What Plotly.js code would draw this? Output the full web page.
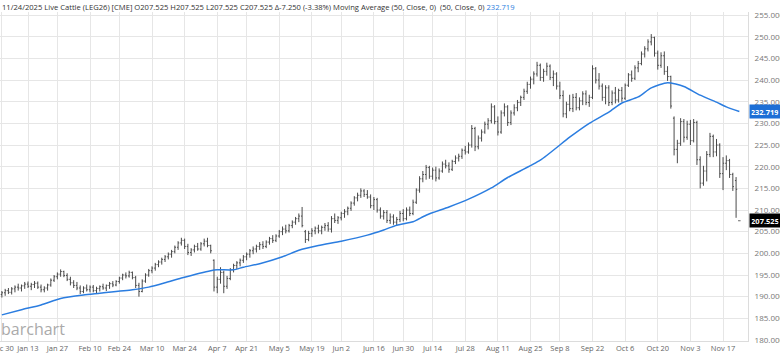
<!DOCTYPE html>
<html><head><meta charset="utf-8">
<script src="https://cdn.plot.ly/plotly-3.0.1.min.js"></script>
<style>html,body{margin:0;padding:0;background:#fff;}#chart{width:780px;height:355px;}</style>
</head><body><div id="chart"></div>
<script>
// Trading calendar (CME livestock): first and last session, closed days
const firstSession = '2024-12-30';
const lastSession = '2025-11-24';
const closedDays = ['2025-01-01','2025-01-09','2025-01-20','2025-02-17','2025-04-18','2025-05-26','2025-06-19','2025-07-04','2025-09-01'];

// Daily OHLC, Live Cattle LEG26
const opens = [
190.5,190.9,191.4,191.0,191.8,192.2,192.0,192.5,192.9,192.4,
192.8,193.1,192.2,191.6,192.0,192.7,193.8,194.6,195.2,195.8,
194.9,194.0,193.2,192.6,192.0,191.2,192.0,191.6,192.2,191.4,
191.9,192.3,192.0,192.6,193.0,192.7,193.5,194.3,195.0,194.8,
195.6,194.4,192.6,191.2,193.6,195.0,196.0,196.6,197.4,198.0,
198.6,199.2,199.8,200.4,201.4,202.4,203.0,201.6,200.2,200.8,
201.6,201.0,202.2,202.8,201.8,198.4,192.2,194.0,195.6,192.4,
194.2,196.2,197.2,197.8,198.4,199.2,199.8,200.6,201.0,201.6,
202.0,201.6,202.6,203.4,203.0,204.0,205.0,205.6,205.2,206.4,
207.2,208.0,208.6,205.0,203.2,204.6,205.2,205.8,205.2,206.0,
206.4,205.6,208.0,207.6,208.2,209.2,209.6,210.4,211.6,212.8,
213.4,214.4,213.6,213.0,211.0,212.4,210.0,208.6,209.4,207.6,
208.4,207.2,207.8,209.2,208.0,210.0,209.2,211.8,214.6,217.2,
218.2,219.8,217.8,219.2,217.4,219.0,220.6,220.2,219.4,221.2,
222.0,222.4,223.8,223.4,225.0,228.8,224.6,226.6,228.0,229.8,
230.6,233.8,230.4,228.0,232.4,233.8,230.2,232.4,233.6,234.8,
236.0,237.4,239.0,240.2,241.4,243.4,240.6,242.0,243.2,240.6,
241.4,238.6,236.4,232.2,234.4,233.4,236.0,233.6,235.2,236.8,
234.8,236.0,242.6,240.0,238.6,236.0,238.2,234.8,237.0,235.4,
237.6,235.8,238.8,241.2,240.4,242.8,243.8,246.0,247.2,248.8,
249.8,246.2,243.4,245.6,242.0,240.8,231.2,224.0,225.4,230.4,
226.8,229.8,226.0,230.2,221.6,216.2,219.0,222.8,227.0,223.4,
225.0,218.4,220.8,221.4,218.2,216.8,207.525];
const highs = [
191.3,191.8,192.0,192.2,192.6,193.0,192.8,193.4,193.5,193.2,
193.6,193.5,192.8,192.4,193.0,194.2,195.0,195.6,196.3,196.0,
195.4,194.6,193.8,193.4,192.6,192.4,192.8,192.6,192.7,192.3,
192.6,193.0,192.8,193.4,193.6,193.8,194.6,195.3,195.6,196.0,
195.8,194.8,193.2,194.0,195.4,196.4,197.0,197.8,198.4,199.0,
199.6,200.2,200.8,201.8,202.8,203.6,203.4,202.2,201.2,202.0,
202.4,202.6,203.4,203.6,202.0,198.6,194.6,196.8,196.0,194.8,
196.6,197.6,198.2,198.8,199.6,200.2,201.0,201.6,202.0,202.6,
202.8,203.0,203.8,204.2,204.4,205.4,206.2,206.6,206.8,207.6,
208.4,209.2,210.7,205.4,205.2,205.8,206.2,206.6,206.4,207.0,
207.2,208.6,209.2,208.6,209.6,210.2,210.8,212.0,213.2,214.0,
215.0,214.8,214.6,213.6,213.0,212.8,210.6,210.0,210.0,209.2,
209.0,208.4,209.8,210.2,210.6,210.8,212.4,215.0,217.8,219.0,
220.4,220.2,219.8,220.0,219.6,221.2,221.6,221.0,221.6,222.6,
223.0,224.2,224.8,225.6,229.6,229.2,227.2,228.6,230.4,231.2,
234.6,234.2,231.6,233.0,234.6,234.2,233.0,234.4,235.4,236.4,
238.0,239.6,240.8,242.0,244.2,243.8,242.6,244.0,243.6,242.2,
241.8,239.6,237.6,235.0,236.6,236.8,237.0,236.0,237.4,237.6,
236.6,243.4,243.0,241.6,239.2,238.8,238.8,237.6,238.4,238.0,
238.4,239.2,241.6,242.2,243.4,244.4,246.6,247.8,249.4,250.6,
250.0,246.8,246.4,246.6,243.2,241.0,231.6,226.2,231.2,231.0,
230.6,230.8,231.0,230.6,222.4,220.2,223.6,227.8,227.4,226.4,
225.4,222.2,222.6,221.8,218.6,217.6,207.525];
const lows = [
189.8,190.2,190.6,190.5,191.0,191.4,191.2,191.8,192.0,191.5,
192.0,191.8,191.0,191.0,191.4,192.3,193.4,194.0,194.6,194.5,
193.6,192.6,192.0,191.5,190.6,190.8,191.2,191.0,191.0,190.8,
191.2,191.6,191.3,191.8,192.2,192.4,193.0,193.8,194.2,194.4,
194.0,192.0,190.0,191.0,193.2,194.6,195.4,196.0,196.8,197.4,
198.0,198.6,199.0,200.0,200.8,201.8,201.0,199.6,199.4,200.2,
200.6,200.6,201.6,201.4,200.0,191.2,190.8,193.0,190.8,191.8,
193.8,195.6,196.4,197.0,197.8,198.4,199.0,199.8,200.2,200.8,
201.0,201.2,202.0,202.4,202.6,203.6,204.2,204.6,204.8,205.8,
206.6,207.2,206.0,202.4,202.8,203.8,204.4,204.6,204.4,205.2,
205.0,204.8,207.0,206.8,207.6,208.2,208.8,209.8,211.0,212.0,
212.8,213.0,212.6,210.4,210.0,209.4,208.0,207.8,207.0,206.8,
206.6,206.4,207.2,207.4,207.6,208.6,208.8,211.4,214.0,216.4,
217.0,217.2,217.0,216.6,217.0,218.6,219.6,218.6,219.0,220.6,
221.2,221.8,222.8,223.0,224.4,223.6,224.0,225.8,227.6,228.6,
230.0,229.8,227.2,227.6,231.6,229.4,229.6,231.8,232.8,234.0,
235.4,236.8,238.0,239.0,240.8,239.8,239.6,241.0,240.0,238.6,
237.8,235.6,231.4,231.2,232.8,232.6,233.0,233.0,234.2,234.2,
233.8,235.6,239.2,237.8,235.2,234.4,234.0,234.2,234.6,234.8,
235.0,235.4,238.4,239.6,240.0,241.8,243.4,245.2,246.6,248.0,
245.4,242.4,242.8,241.2,239.8,233.4,222.6,220.8,224.8,225.6,
226.2,225.0,225.6,220.4,215.0,215.6,216.6,222.2,222.2,222.4,
217.4,214.6,219.2,217.4,214.4,208.2,207.525];
const closes = [
190.9,191.4,191.0,191.8,192.2,192.0,192.5,192.9,192.4,192.8,
193.1,192.2,191.6,192.0,192.7,193.8,194.6,195.2,195.8,194.9,
194.0,193.2,192.6,192.0,191.2,192.0,191.6,192.2,191.4,191.9,
192.3,192.0,192.6,193.0,192.7,193.5,194.3,195.0,194.8,195.6,
194.4,192.6,191.2,193.6,195.0,196.0,196.6,197.4,198.0,198.6,
199.2,199.8,200.4,201.4,202.4,203.0,201.6,200.2,200.8,201.6,
201.0,202.2,202.8,201.8,200.6,192.2,194.0,195.6,192.4,194.2,
196.2,197.2,197.8,198.4,199.2,199.8,200.6,201.0,201.6,202.0,
201.6,202.6,203.4,203.0,204.0,205.0,205.6,205.2,206.4,207.2,
208.0,208.6,206.4,203.2,204.6,205.2,205.8,205.2,206.0,206.4,
205.6,208.0,207.6,208.2,209.2,209.6,210.4,211.6,212.8,213.4,
214.4,213.6,213.0,211.0,212.4,210.0,208.6,209.4,207.6,208.4,
207.2,207.8,209.2,208.0,210.0,209.2,211.8,214.6,217.2,218.2,
219.8,217.8,219.2,217.4,219.0,220.6,220.2,219.4,221.2,222.0,
222.4,223.8,223.4,225.0,228.8,224.6,226.6,228.0,229.8,230.6,
233.8,230.4,228.0,232.4,233.8,230.2,232.4,233.6,234.8,236.0,
237.4,239.0,240.2,241.4,243.4,240.6,242.0,243.2,240.6,241.4,
238.6,236.4,232.2,234.4,233.4,236.0,233.6,235.2,236.8,234.8,
236.0,242.6,240.0,238.6,236.0,238.2,234.8,237.0,235.4,237.6,
235.8,238.8,241.2,240.4,242.8,243.8,246.0,247.2,248.8,249.8,
246.2,243.4,245.6,242.0,240.8,234.0,224.0,225.4,230.4,226.8,
229.8,226.0,230.2,221.6,216.2,219.0,222.8,227.0,223.4,225.0,
218.4,220.8,221.4,218.2,215.4,214.775,207.525];

// 50-day moving average (at these sessions)
const maDates = ['2024-12-30','2025-01-08','2025-01-17','2025-01-28','2025-02-06','2025-02-13','2025-02-28','2025-03-07','2025-03-14','2025-03-21',
'2025-04-03','2025-04-07','2025-04-14','2025-04-17','2025-04-25','2025-05-06','2025-05-13','2025-05-21','2025-06-02','2025-06-12',
'2025-06-20','2025-06-26','2025-07-03','2025-07-10','2025-07-21','2025-07-29','2025-08-07','2025-08-14','2025-08-28','2025-09-11',
'2025-09-19','2025-09-29','2025-10-03','2025-10-10','2025-10-16','2025-10-23','2025-10-30','2025-11-06','2025-11-13','2025-11-18','2025-11-24'];
const maValues = [185.8,187.0,188.1,189.6,190.4,190.8,191.6,192.2,193.2,194.3,
196.0,196.2,196.2,196.8,197.6,199.2,200.7,201.8,202.8,204.2,
205.4,206.5,207.3,208.8,210.7,212.5,215.1,217.5,221.5,226.8,
230.0,232.6,234.7,236.1,238.2,239.4,238.5,236.5,234.9,233.8,232.719];

// Date axis labels
const tickDates = ['2024-12-30','2025-01-13','2025-01-27','2025-02-10','2025-02-24','2025-03-10','2025-03-24','2025-04-07','2025-04-21','2025-05-05','2025-05-19','2025-06-02','2025-06-16','2025-06-30','2025-07-14','2025-07-28','2025-08-11','2025-08-25','2025-09-08','2025-09-22','2025-10-06','2025-10-20','2025-11-03','2025-11-17'];
const tickLabels = ['Dec 30','Jan 13','Jan 27','Feb 10','Feb 24','Mar 10','Mar 24','Apr 7','Apr 21','May 5','May 19','Jun 2','Jun 16','Jun 30','Jul 14','Jul 28','Aug 11','Aug 25','Sep 8','Sep 22','Oct 6','Oct 20','Nov 3','Nov 17'];
const priceTicks = [180,185,190,195,200,205,210,215,220,225,230,235,240,245,250,255];

// Build the session list from the calendar
const sessions = [];
{
  const d = new Date(firstSession + 'T00:00:00Z');
  const end = new Date(lastSession + 'T00:00:00Z');
  while (d <= end) {
    const s = d.toISOString().slice(0,10);
    const wd = d.getUTCDay();
    if (wd !== 0 && wd !== 6 && closedDays.indexOf(s) < 0) sessions.push(s);
    d.setUTCDate(d.getUTCDate() + 1);
  }
}

const FONT = '"Open Sans", "DejaVu Sans", sans-serif';
const lastClose = closes[closes.length-1];
const lastMA = maValues[maValues.length-1];

const traces = [
  {
    type: 'ohlc', x: sessions, open: opens, high: highs, low: lows, close: closes,
    increasing: {line: {color: '#4a4a4a', width: 1}},
    decreasing: {line: {color: '#4a4a4a', width: 1}},
    tickwidth: 0.35, hoverinfo: 'skip', showlegend: false
  },
  {
    type: 'scatter', mode: 'lines', x: maDates, y: maValues,
    line: {color: '#2b7de0', width: 1.5, shape: 'spline', smoothing: 0.6},
    hoverinfo: 'skip', showlegend: false
  }
];

const layout = {
  width: 780, height: 355,
  margin: {l: 0, r: 32, t: 12, b: 14, pad: 0},
  paper_bgcolor: '#ffffff', plot_bgcolor: '#ffffff',
  font: {family: FONT, size: 8, color: '#666'},
  showlegend: false,
  xaxis: {
    type: 'category', categoryorder: 'array', categoryarray: sessions,
    range: [-0.58, 228.65],
    rangeslider: {visible: false},
    tickmode: 'array', tickvals: tickDates, ticktext: tickLabels,
    tickangle: 0, automargin: false,
    showgrid: true, gridcolor: '#e6e6e6', gridwidth: 1,
    showline: true, linecolor: '#dcdcdc', linewidth: 1,
    ticks: '', tickfont: {family: FONT, size: 7.5, color: '#666'},
    zeroline: false, fixedrange: true
  },
  yaxis: {
    side: 'right', range: [179.77, 255.7],
    tickmode: 'array', tickvals: priceTicks,
    ticktext: priceTicks.map(v => v.toFixed(3)),
    automargin: false,
    showgrid: true, gridcolor: '#e6e6e6', gridwidth: 1,
    showline: true, linecolor: '#dcdcdc', linewidth: 1,
    ticks: 'outside', ticklen: 4, tickcolor: 'rgba(0,0,0,0)',
    tickfont: {family: FONT, size: 8, color: '#777'},
    zeroline: false, fixedrange: true
  },
  annotations: [
    {
      xref: 'paper', yref: 'paper', x: 0, y: 1, xanchor: 'left', yanchor: 'bottom',
      xshift: 0, yshift: -2, showarrow: false, align: 'left',
      text: '11/24/2025 Live Cattle (LEG26) [CME] O207.525 H207.525 L207.525 C207.525 \u0394-7.250 (-3.38%) Moving Average (50, Close, 0)  (50, Close, 0) <span style="color:#2b7de0">' + lastMA.toFixed(3) + '</span>',
      font: {family: FONT, size: 7.6, color: '#333'}
    },
    {
      xref: 'paper', yref: 'paper', x: 0, y: 0, xanchor: 'left', yanchor: 'bottom',
      xshift: -1, yshift: -1, showarrow: false,
      text: 'barchart', font: {family: FONT, size: 16, color: '#aaaaaa'}
    },
    {
      xref: 'paper', yref: 'y', x: 1, y: lastMA, xanchor: 'left', yanchor: 'middle',
      xshift: 1, showarrow: false, text: '<b>' + lastMA.toFixed(3) + '</b>',
      bgcolor: '#1d6fd6', borderpad: 1.5, width: 27,
      font: {family: FONT, size: 7.5, color: '#ffffff'}
    },
    {
      xref: 'paper', yref: 'y', x: 1, y: lastClose, xanchor: 'left', yanchor: 'middle',
      xshift: 1, showarrow: false, text: '<b>' + lastClose.toFixed(3) + '</b>',
      bgcolor: '#000000', borderpad: 1.5, width: 27,
      font: {family: FONT, size: 7.5, color: '#ffffff'}
    }
  ]
};

Plotly.newPlot('chart', traces, layout, {staticPlot: true, displayModeBar: false});
</script></body></html>
